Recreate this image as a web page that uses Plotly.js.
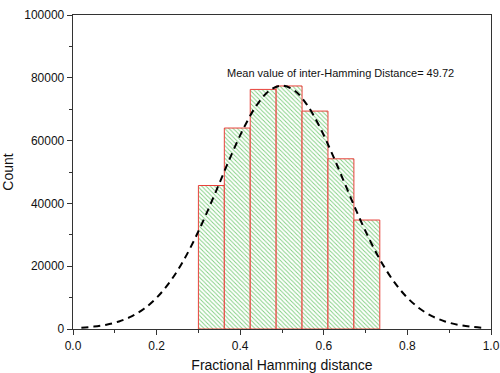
<!DOCTYPE html>
<html>
<head>
<meta charset="utf-8">
<script src="https://cdn.plot.ly/plotly-3.0.1.min.js"></script>
<style>html,body{margin:0;padding:0;background:#fff}#chart{width:500px;height:373px}</style>
</head>
<body>
<div id="chart"></div>
<script>
// Histogram bins (centers) and counts
const binCenters = [0.331, 0.393, 0.455, 0.517, 0.579, 0.641, 0.703];
const binWidth = 0.062;
const counts = [45700, 64000, 76300, 77400, 69400, 54200, 34700];

// Fitted curve
const curveX = [0.02, 0.05, 0.08, 0.11, 0.14, 0.17, 0.20, 0.23, 0.26, 0.29, 0.32, 0.35, 0.38, 0.41, 0.44, 0.47, 0.50,
                0.53, 0.56, 0.59, 0.62, 0.65, 0.68, 0.71, 0.74, 0.77, 0.80, 0.83, 0.86, 0.89, 0.92, 0.95, 0.98];
const curveY = [400, 760, 1380, 2400, 4020, 6450, 9930, 14680, 20810, 28310, 36990, 46370, 55790, 64420, 71390, 75930, 77500,
                75930, 71390, 64420, 55790, 46370, 36990, 28310, 20810, 14680, 9930, 6450, 4020, 2400, 1380, 760, 400];

const annotationText = 'Mean value of inter-Hamming Distance= 49.72';

const traces = [
  {
    type: 'bar',
    x: binCenters,
    y: counts,
    width: Array(binCenters.length).fill(binWidth),
    marker: {
      color: 'white',
      line: {color: '#e8413b', width: 1},
      pattern: {shape: '\\', fgcolor: '#7fcf7f', bgcolor: 'white', size: 3, solidity: 0.3, fillmode: 'replace'}
    },
    showlegend: false,
    hoverinfo: 'skip'
  },
  {
    type: 'scatter',
    mode: 'lines',
    x: curveX,
    y: curveY,
    line: {color: '#000', width: 2, dash: '7px,5px', shape: 'spline'},
    showlegend: false
  }
];

const axisFont = {family: 'Liberation Sans, Arial, sans-serif', size: 12, color: '#111'};

const layout = {
  width: 500,
  height: 373,
  margin: {l: 73, r: 9, t: 15, b: 44},
  paper_bgcolor: 'white',
  plot_bgcolor: 'white',
  font: axisFont,
  bargap: 0,
  xaxis: {
    range: [0, 1],
    dtick: 0.2,
    tickformat: '.1f',
    ticks: 'outside',
    ticklen: 5,
    tickcolor: '#333',
    showline: true,
    linecolor: '#333',
    linewidth: 1.3,
    mirror: true,
    showgrid: false,
    zeroline: false,
    minor: {dtick: 0.1, ticks: 'outside', ticklen: 3, tickcolor: '#333'},
    tickfont: {size: 12},
    title: {text: 'Fractional Hamming distance', font: {size: 14}, standoff: 8}
  },
  yaxis: {
    range: [0, 100000],
    dtick: 20000,
    tickformat: 'd',
    ticks: 'outside',
    ticklen: 5,
    tickcolor: '#333',
    showline: true,
    linecolor: '#333',
    linewidth: 1.3,
    mirror: true,
    showgrid: false,
    zeroline: false,
    minor: {dtick: 10000, ticks: 'outside', ticklen: 3, tickcolor: '#333'},
    tickfont: {size: 12},
    title: {text: 'Count', font: {size: 14}, standoff: 10}
  },
  annotations: [{
    x: 0.639, y: 81500, xref: 'x', yref: 'y',
    text: annotationText, showarrow: false,
    font: {size: 11, color: '#111'}
  }]
};

Plotly.newPlot('chart', traces, layout, {displayModeBar: false, staticPlot: true});
</script>
</body>
</html>
